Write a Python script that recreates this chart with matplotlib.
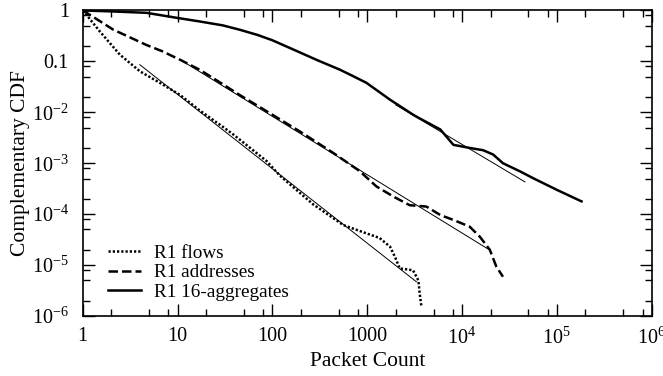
"""
Complementary CDF of packet counts for flows, addresses and 16-aggregates.
"""
import matplotlib
matplotlib.use("Agg")
import matplotlib.pyplot as plt
from matplotlib.ticker import LogLocator, NullFormatter

plt.rcParams['font.family'] = ['Liberation Serif', 'DejaVu Serif']
plt.rcParams['mathtext.fontset'] = 'custom'
plt.rcParams['mathtext.rm'] = 'Liberation Serif'
plt.rcParams['mathtext.it'] = 'Liberation Serif:italic'

# curves
flows_x = [1, 1.09, 1.51, 2.46, 4, 6.5, 10.6, 17, 30, 38.5, 87, 120, 270, 560,
           980, 1350, 1740, 1960, 2200, 3040, 3460, 3570, 3730]
flows_y = [1, 0.83, 0.39, 0.136, 0.064, 0.038, 0.022, 0.011, 0.0052, 0.0037,
           0.0011, 0.00057, 0.000155, 6.1e-5, 4.2e-5, 3.4e-5, 2.3e-5, 1.45e-5,
           8.6e-6, 7.9e-6, 5e-6, 2.8e-6, 1.5e-6]

addr_x = [1, 1.18, 2.1, 4.7, 6.8, 10.6, 17, 23.7, 45, 87, 195, 437, 833, 1250,
          1900, 2800, 4200, 5900, 8100, 12000, 15400, 19600, 23000, 27000]
addr_y = [1, 0.83, 0.42, 0.21, 0.16, 0.108, 0.069, 0.047, 0.022, 0.0105, 0.0042,
          0.0016, 0.0007, 0.00035, 0.00022, 0.00015, 0.000141, 9.6e-5, 7.7e-5,
          5.7e-5, 3.6e-5, 2e-5, 9.3e-6, 5.9e-6]

agg_x = [1, 2, 4.7, 9.7, 17, 30, 45, 70, 100, 195, 300, 513, 700, 980, 1740,
         3040, 3570, 5900, 8100, 12000, 16700, 21300, 27000, 41000, 56000,
         100000, 182000]
agg_y = [1, 0.96, 0.9, 0.72, 0.61, 0.51, 0.42, 0.33, 0.26, 0.15, 0.105, 0.069,
         0.052, 0.038, 0.0177, 0.009, 0.0076, 0.0046, 0.0023, 0.002, 0.0018,
         0.00148, 0.001, 0.00069, 0.00051, 0.0003, 0.000178]

# power-law fits (thin lines)
flows_fit_x = [4, 3300]
flows_fit_y = [0.086, 4.7e-6]
addr_fit_x = [11.4, 19600]
addr_fit_y = [0.1, 1.97e-5]
agg_fit_x = [2000, 46000]
agg_fit_y = [0.014, 0.00043]

labels = ['R1 flows', 'R1 addresses', 'R1 16-aggregates']

x_ticks = [1, 10, 100, 1000, 1e4, 1e5, 1e6]
x_tick_labels = ['1', '10', '100', '1000', r'$10^4$', r'$10^5$', r'$10^6$']
y_ticks = [1, 0.1, 1e-2, 1e-3, 1e-4, 1e-5, 1e-6]
y_tick_labels = ['1', '0.1', r'$10^{-2}$', r'$10^{-3}$', r'$10^{-4}$',
                 r'$10^{-5}$', r'$10^{-6}$']

fig = plt.figure(figsize=(6.63, 3.76), dpi=100)
ax = fig.add_axes([0.1248, 0.1596, 0.8582, 0.8125])

lw = 1.8
ax.plot(flows_x, flows_y, color='black', lw=lw, dashes=(0.9, 0.8),
        label=labels[0])
ax.plot(addr_x, addr_y, color='black', lw=lw, dashes=(3.8, 1.6),
        label=labels[1])
ax.plot(agg_x, agg_y, color='black', lw=lw, label=labels[2])

for fx, fy in [(flows_fit_x, flows_fit_y), (addr_fit_x, addr_fit_y),
               (agg_fit_x, agg_fit_y)]:
    ax.plot(fx, fy, color='black', lw=0.7)

ax.set_xscale('log')
ax.set_yscale('log')
ax.set_xlim(1, 1e6)
ax.set_ylim(1e-6, 1)

ax.set_xticks(x_ticks, x_tick_labels)
ax.set_yticks(y_ticks, y_tick_labels)
ax.xaxis.set_minor_locator(LogLocator(base=10, subs=[2, 5, 8], numticks=20))
ax.yaxis.set_minor_locator(LogLocator(base=10, subs=[2, 5, 8], numticks=20))
ax.xaxis.set_minor_formatter(NullFormatter())
ax.yaxis.set_minor_formatter(NullFormatter())

ax.tick_params(which='both', direction='in', top=True, right=True,
               labelsize=14.5, width=1.0)
ax.tick_params(which='major', length=8.5)
ax.tick_params(axis='x', which='major', pad=8)
ax.tick_params(axis='y', which='major', pad=10)
ax.tick_params(which='minor', length=4.8)
for sp in ax.spines.values():
    sp.set_linewidth(1.2)

ax.set_xlabel('Packet Count', fontsize=15.5, labelpad=3)
ax.set_ylabel('Complementary CDF', fontsize=15.5, labelpad=1)

ax.legend(loc='lower left', frameon=False, fontsize=13.8, handlelength=1.75,
          handletextpad=0.65, labelspacing=0.12, borderaxespad=0.3,
          bbox_to_anchor=(0.02, 0.005))

fig.savefig('out.png', dpi=100)
